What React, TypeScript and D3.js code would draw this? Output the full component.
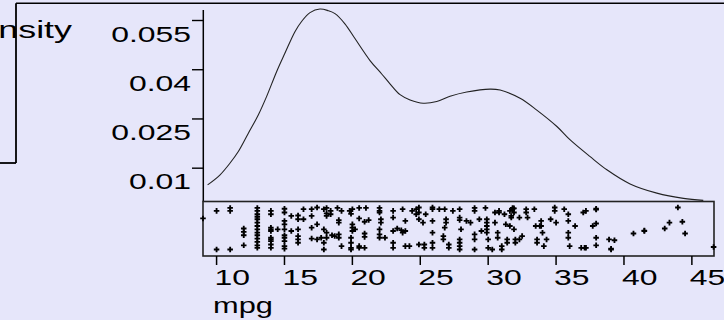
import React from "react";
import * as d3 from "d3";

const W = 724;
const H = 320;

// density curve (mpg grid, density)
const densityMpg = [9.34, 10.24, 10.98, 11.59, 12.33, 13.07, 13.68, 14.42, 15.03, 15.77, 16.26, 16.88, 17.61, 18.22, 18.72, 19.45, 20.19, 21.3, 22.16, 22.77, 23.51, 24.25, 25.22, 26.21, 27.19, 28.42, 30.14, 30.88, 32.35, 33.58, 35.06, 36.04, 37.51, 38.74, 40.45, 42.42, 44.38, 45.84];
const densityValues = [0.0049, 0.0079, 0.0115, 0.015, 0.0206, 0.0262, 0.0318, 0.0394, 0.045, 0.0516, 0.0547, 0.0574, 0.0585, 0.058, 0.0571, 0.054, 0.0495, 0.0428, 0.0387, 0.0357, 0.0324, 0.0308, 0.0298, 0.0303, 0.0319, 0.0332, 0.0341, 0.0338, 0.0313, 0.0277, 0.0227, 0.0186, 0.0135, 0.0095, 0.0052, 0.0024, 0.0008, 0.0002];

// jittered strip of observations: [mpg, jitter]
const stripPoints: [number, number][] = [
  [9, 0.74], [10, 0.92], [10, 0.0], [11, 0.99], [11, 0.92], [11, 0.0], [12, 0.5], [12, 0.42], [12, 0.34], [12, 0.1],
  [13, 0.99], [13, 0.92], [13, 0.84], [13, 0.78], [13, 0.72], [13, 0.64], [13, 0.56], [13, 0.48], [13, 0.4], [13, 0.34], [13, 0.26], [13, 0.18], [13, 0.1], [13, 0.04],
  [14, 0.92], [14, 0.84], [14, 0.52], [14, 0.48], [14, 0.44], [14, 0.28], [14, 0.24], [14, 0.2], [14, 0.12], [14, 0.04],
  [14.5, 0.48],
  [15, 0.97], [15, 0.88], [15, 0.68], [15, 0.6], [15, 0.48], [15, 0.34], [15, 0.28], [15, 0.2], [15, 0.08], [15, 0.02],
  [15.5, 0.8], [15.5, 0.44],
  [16, 0.81], [16, 0.72], [16, 0.48], [16, 0.32], [16, 0.24], [16, 0.16],
  [16.4, 0.96], [16.4, 0.72],
  [17, 0.96], [17, 0.8], [17, 0.52], [17, 0.26],
  [17.4, 1.0], [17.4, 0.6], [17.4, 0.24], [17.7, 0.28],
  [17.9, 0.96], [17.9, 0.48], [17.9, 0.16], [17.9, 0.0],
  [18.1, 0.99], [18.1, 0.86], [18.1, 0.8], [18.4, 0.92], [18.4, 0.84],
  [18.9, 0.99], [19.2, 0.92], [19.0, 0.7], [19.0, 0.64],
  [19.8, 0.92], [20.0, 0.96], [19.9, 0.85], [20.5, 0.99], [21.0, 0.99],
  [20.5, 0.74], [20.9, 0.66], [21.2, 0.7],
  [20.0, 0.6], [20.0, 0.52], [20.0, 0.44], [20.2, 0.48], [20.9, 0.38], [20.9, 0.3],
  [22.0, 0.99], [22.0, 0.92], [22.0, 0.88], [22.1, 0.72], [22.1, 0.64],
  [22.0, 0.48], [22.0, 0.36], [22.0, 0.28], [22.4, 0.28],
  [23.0, 0.92], [23.0, 0.76], [23.0, 0.44],
  [23.3, 0.5], [23.6, 0.46], [23.9, 0.44], [23.7, 0.4], [23.7, 0.96], [23.9, 0.68],
  [23.9, 0.08], [24.2, 0.08], [24.4, 0.92], [24.7, 0.96], [24.7, 0.84],
  [24.9, 1.0], [24.9, 0.88], [24.9, 0.72], [25.2, 0.64], [25.3, 0.12], [25.3, 0.04], [25.4, 0.84],
  [25.9, 1.0], [25.9, 0.96], [25.9, 0.68], [25.9, 0.4], [25.9, 0.16], [25.9, 0.04],
  [26.4, 0.96], [26.8, 0.96], [26.9, 0.72], [26.9, 0.64], [26.8, 0.52], [26.7, 0.32], [26.7, 0.24],
  [27.1, 0.12], [27.1, 0.04], [27.4, 0.92],
  [18.1, 0.4], [18.1, 0.28], [18.5, 0.34], [18.7, 0.32], [19.0, 0.36], [19.0, 0.28], [19.2, 0.08],
  [19.9, 0.28], [19.9, 0.16], [19.9, 0.04], [19.9, 0.0], [20.5, 0.08], [20.5, 0.04], [20.9, 0.04],
  [23.0, 0.16], [23.0, 0.04], [24.9, 0.12],
  [27.9, 0.96], [27.9, 0.76], [27.9, 0.7], [28.0, 0.48], [27.9, 0.24], [27.9, 0.16], [27.9, 0.08], [27.9, 0.0],
  [28.4, 0.68], [28.7, 0.64], [29.0, 0.99], [29.0, 0.92], [29.0, 0.36], [29.0, 0.24], [29.0, 0.0],
  [29.35, 0.72], [29.5, 0.44], [29.8, 0.99],
  [29.9, 0.72], [29.9, 0.64], [29.9, 0.56], [29.9, 0.48], [29.9, 0.4],
  [30.0, 0.24], [30.0, 0.04], [30.3, 0.0], [30.5, 0.88], [30.5, 0.64], [30.7, 0.4], [30.7, 0.28],
  [30.8, 0.92], [30.8, 0.88], [31.0, 0.08], [31.0, 0.0], [31.2, 0.84], [31.3, 0.6], [31.4, 0.24], [31.4, 0.16],
  [31.6, 0.92], [31.6, 0.56], [31.7, 0.8], [31.7, 0.76], [31.8, 0.99], [31.8, 0.96], [31.9, 0.98],
  [31.9, 0.88], [31.9, 0.48], [32.0, 0.24], [32.0, 0.16], [32.3, 0.76], [32.3, 0.24], [32.5, 0.32],
  [32.8, 0.96], [32.8, 0.88], [32.9, 0.76], [33.4, 0.96], [33.5, 0.56], [33.6, 0.24], [33.6, 0.16],
  [33.8, 0.56], [33.9, 0.68], [33.9, 0.56], [34.0, 0.4], [34.1, 0.08], [34.3, 0.24],
  [34.6, 0.72], [34.9, 1.0], [34.9, 0.92], [35.0, 0.64],
  [35.6, 0.96], [35.9, 0.84], [35.9, 0.68], [35.9, 0.4], [35.9, 0.28], [36.0, 0.08],
  [36.4, 0.56], [37.0, 0.88], [36.85, 0.04], [37.1, 0.04],
  [37.2, 0.92], [37.95, 0.97], [37.95, 0.95], [37.95, 0.62], [37.7, 0.56], [37.95, 0.28], [37.95, 0.1], [37.2, 0.04],
  [38.9, 0.24], [39.3, 0.22], [39.05, 0.02], [39.05, 0.0],
  [40.7, 0.38], [41.5, 0.44], [41.5, 0.45],
  [43.0, 0.5], [43.35, 0.64], [43.97, 1.0], [44.3, 0.66], [44.5, 0.38], [46.6, 0.06],
];

const xTicks = [10, 15, 20, 25, 30, 35, 40, 45];
const yTicks = [0.01, 0.025, 0.04, 0.055];
const yTickLabels = ["0.01", "0.025", "0.04", "0.055"];
const xTitle = "mpg";
const yTitle = "Density";

const BG = "#e6e6fa";
const FONT = "'Liberation Sans', Arial, Helvetica, sans-serif";
const FS = 22;
const SX = 1.45;

export default function App() {
  const x = d3.scaleLinear().domain([9, 46.6]).range([203, 713.6]);
  const y = d3.scaleLinear().domain([0, 0.0582]).range([201, 10]);
  const yj = d3.scaleLinear().domain([0, 1]).range([249.5, 207.5]);

  const line = d3
    .line<number>()
    .x((_, i) => x(densityMpg[i]))
    .y((d) => y(d))
    .curve(d3.curveCatmullRom.alpha(0.5));
  const cross = d3.symbol().type(d3.symbolCross).size(17)() as string;

  const boxTop = 201.5;
  const boxBottom = 256;
  const boxLeft = 203;
  const boxRight = 714;

  return (
    <svg
      width={W}
      height={H}
      style={{ position: "absolute", left: 0, top: 0, display: "block" }}
    >
      <rect x={0} y={0} width={W} height={H} fill={BG} />
      {/* frame lines */}
      <line x1={16} y1={3.3} x2={W} y2={3.3} stroke="#000" strokeWidth={1.4} />
      <line x1={16} y1={3.3} x2={16} y2={163} stroke="#000" strokeWidth={1.8} />
      <line x1={0} y1={163} x2={16} y2={163} stroke="#000" strokeWidth={1.8} />
      <text
        transform={`translate(72,38) scale(1.56,1)`}
        textAnchor="end"
        fontSize={23}
        fontFamily={FONT}
        fill="#000"
      >
        {yTitle}
      </text>

      {/* y axis */}
      <line x1={203.3} y1={10} x2={203.3} y2={boxTop} stroke="#000" strokeWidth={1.5} />
      {yTicks.map((t, i) => (
        <g key={t}>
          <line x1={192} y1={y(t)} x2={203.3} y2={y(t)} stroke="#000" strokeWidth={1.4} />
          <text
            transform={`translate(191,${y(t) + 21}) scale(${SX},1)`}
            textAnchor="end"
            fontSize={FS}
            fontFamily={FONT}
            fill="#000"
          >
            {yTickLabels[i]}
          </text>
        </g>
      ))}

      {/* density curve */}
      <path d={line(densityValues) || ""} fill="none" stroke="#222" strokeWidth={1.1} />

      {/* strip panel */}
      <rect
        x={boxLeft}
        y={boxTop}
        width={boxRight - boxLeft}
        height={boxBottom - boxTop}
        fill="none"
        stroke="#222"
        strokeWidth={1.6}
      />
      {stripPoints.map((p, i) => (
        <path key={i} d={cross} transform={`translate(${x(p[0])},${yj(p[1])})`} fill="#000" />
      ))}

      {/* x axis */}
      {xTicks.map((t) => (
        <g key={t}>
          <line x1={x(t)} y1={boxBottom} x2={x(t)} y2={265} stroke="#000" strokeWidth={1.5} />
          <text
            transform={`translate(${x(t) - 2},285) scale(${SX},1)`}
            textAnchor="start"
            fontSize={FS}
            fontFamily={FONT}
            fill="#000"
          >
            {t}
          </text>
        </g>
      ))}
      <text
        transform={`translate(213,313) scale(1.4,1)`}
        textAnchor="start"
        fontSize={FS}
        fontFamily={FONT}
        fill="#000"
      >
        {xTitle}
      </text>
    </svg>
  );
}
